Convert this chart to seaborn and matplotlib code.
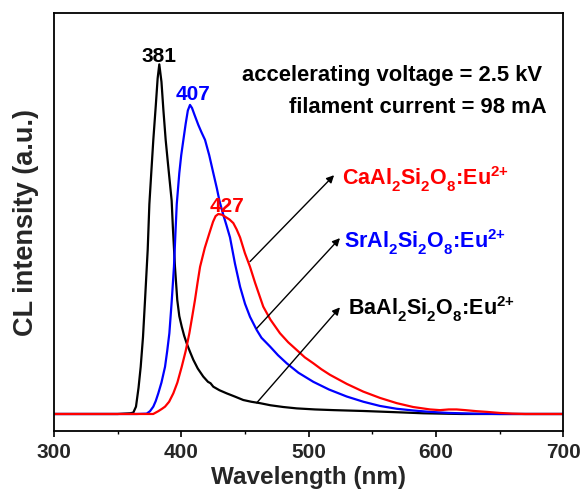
import numpy as np
import pandas as pd
import seaborn as sns
import matplotlib
matplotlib.use("Agg")
import matplotlib.pyplot as plt
from matplotlib.ticker import MultipleLocator

try:
    import matplotlib._mathtext as _mt
    _mt.FontConstantsBase.sub1 = 0.55
    _mt.FontConstantsBase.sub2 = 0.6
except Exception:
    pass

# ---------------- data ----------------
ba_nm = [300, 350, 360, 362.4, 364.5, 366.5, 368.2, 370, 371.6, 373.7, 375, 376.5, 378.1,
         380, 381.5, 382.8, 384.5, 386, 387.8, 389.5, 391, 392.5, 393.5, 395.1, 396.9,
         398.5, 400.4, 402.3, 404.3, 407, 409.5, 413, 417.3, 421, 423, 425.2, 430, 435.7,
         442, 448.7, 455, 461.8, 470, 480, 490.7, 505, 520, 542.9, 569.2, 590, 620, 700]
ba_int = [0, 0, 0.002, 0.004, 0.021, 0.075, 0.135, 0.22, 0.326, 0.47, 0.6, 0.69, 0.784,
          0.88, 0.96, 1.0, 0.95, 0.87, 0.784, 0.72, 0.665, 0.61, 0.53, 0.421, 0.326,
          0.28, 0.25, 0.224, 0.202, 0.177, 0.155, 0.13, 0.107, 0.092, 0.088, 0.078, 0.068, 0.059,
          0.05, 0.04, 0.035, 0.031, 0.025, 0.02, 0.016, 0.013, 0.011, 0.0086, 0.005, 0.002, 0.0, 0.0]

sr_nm = [300, 365, 372.9, 375.5, 378.1, 380, 382, 384.5, 387.3, 389, 390.7, 392.5, 394.3,
         395.5, 396.5, 398.5, 400, 401.7, 403.5, 405.2, 406.9, 408.5, 410.5, 413.4, 416,
         418.7, 422, 425.2, 428, 430, 433, 435.5, 438.3, 442.2, 446.2, 450.1, 454, 459.3,
         463, 469.7, 476, 482.8, 492, 503.7, 516, 529.9, 543, 556, 569, 582.2, 595.3, 610,
         630, 650, 700]
sr_int = [0, 0, 0.001, 0.008, 0.021, 0.037, 0.059, 0.09, 0.135, 0.18, 0.231, 0.32, 0.421,
          0.52, 0.6, 0.689, 0.74, 0.784, 0.83, 0.868, 0.884, 0.875, 0.855, 0.827, 0.805,
          0.784, 0.74, 0.689, 0.645, 0.61, 0.57, 0.54, 0.505, 0.43, 0.364, 0.315, 0.278, 0.24,
          0.218, 0.193, 0.168, 0.145, 0.118, 0.092, 0.07, 0.05, 0.035, 0.023, 0.015, 0.01, 0.006, 0.003,
          0.001, 0.0, 0.0]

ca_nm = [300, 370, 378, 382, 385, 387.3, 390.5, 393.8, 397, 400.4, 403.5, 406.4, 408.7,
         410.8, 412.8, 414.8, 418.5, 422.1, 425, 427, 429.1, 432, 435, 438, 440.9, 443.5,
         446.2, 450, 454, 458, 464.4, 470, 477.5, 484, 490.7, 497, 503.7, 510, 516.8, 530,
         542.9, 556, 569.2, 582, 595.3, 603.1, 610, 616.2, 623, 631.9, 640, 650, 660, 670, 700]
ca_int = [0, 0, 0.0, 0.008, 0.015, 0.021, 0.035, 0.059, 0.09, 0.135, 0.18, 0.231, 0.28,
          0.326, 0.375, 0.421, 0.475, 0.517, 0.55, 0.566, 0.572, 0.57, 0.563, 0.556, 0.546, 0.528,
          0.505, 0.46, 0.421, 0.375, 0.307, 0.27, 0.231, 0.205, 0.183, 0.162, 0.145, 0.128, 0.112, 0.086,
          0.064, 0.046, 0.031, 0.02, 0.013, 0.011, 0.013, 0.013, 0.011, 0.008, 0.006, 0.003, 0.001, 0.0, 0.0]

series_names = ["Ba", "Sr", "Ca"]
series_colors = {"Ba": "#000000", "Sr": "#0000ff", "Ca": "#ff0000"}
peak_labels = ["381", "407", "427"]
xticks = [300, 400, 500, 600, 700]

# ---------------- style ----------------
sns.set_theme(style="ticks")
plt.rcParams["font.family"] = ["Liberation Sans", "DejaVu Sans"]
plt.rcParams["font.weight"] = "bold"
plt.rcParams["mathtext.fontset"] = "custom"
plt.rcParams["mathtext.rm"] = "Liberation Sans:bold"
plt.rcParams["mathtext.it"] = "Liberation Sans:bold"
plt.rcParams["mathtext.bf"] = "Liberation Sans:bold"
plt.rcParams["mathtext.sf"] = "Liberation Sans:bold"

df = pd.concat([
    pd.DataFrame({"nm": ba_nm, "I": ba_int, "s": "Ba"}),
    pd.DataFrame({"nm": sr_nm, "I": sr_int, "s": "Sr"}),
    pd.DataFrame({"nm": ca_nm, "I": ca_int, "s": "Ca"}),
], ignore_index=True)

fig = plt.figure(figsize=(5.83, 4.93), dpi=100)
ax = fig.add_axes([0.0923, 0.1258, 0.8741, 0.8472])

sns.lineplot(data=df, x="nm", y="I", hue="s", hue_order=series_names,
             palette=series_colors, linewidth=1.6, ax=ax, legend=False,
             estimator=None, sort=False)

ax.set_xlim(300, 700)
ax.set_ylim(-0.0486, 1.146)
ax.set_yticks([])
ax.set_xticks(xticks)
ax.set_xticklabels([str(t) for t in xticks])
ax.xaxis.set_minor_locator(MultipleLocator(50))
ax.tick_params(axis="x", which="major", direction="out", length=4.5, width=1.2,
               labelsize=15, pad=4, color="black")
ax.tick_params(axis="x", which="minor", direction="out", length=2.5, width=1.0, color="black")
for sp in ax.spines.values():
    sp.set_visible(True)
    sp.set_linewidth(1.3)
    sp.set_color("black")

ax.set_xlabel("Wavelength (nm)", fontsize=17.5, fontweight="bold", labelpad=3)
ax.set_ylabel("CL intensity (a.u.)", fontsize=19.5, fontweight="bold", labelpad=11)

# peak labels
ax.text(382.6, 1.008, peak_labels[0], color="black", fontsize=15, fontweight="bold",
        ha="center", va="baseline")
ax.text(409.3, 0.898, peak_labels[1], color="#0000ff", fontsize=15, fontweight="bold",
        ha="center", va="baseline")
ax.text(435.7, 0.578, peak_labels[2], color="#ff0000", fontsize=15, fontweight="bold",
        ha="center", va="baseline")

# condition text
ax.text(683, 0.951, "accelerating voltage = 2.5 kV", fontsize=15.8, fontweight="bold",
        ha="right", va="baseline", color="black")
ax.text(686.9, 0.860, "filament current = 98 mA", fontsize=15.8, fontweight="bold",
        ha="right", va="baseline", color="black")

# arrows
arrow_kw = dict(arrowstyle="-|>", color="black", lw=1.0, mutation_scale=11,
                shrinkA=0, shrinkB=0)
ax.annotate("", xy=(520, 0.683), xytext=(454, 0.436), arrowprops=arrow_kw)
ax.annotate("", xy=(524.6, 0.503), xytext=(459.3, 0.245), arrowprops=arrow_kw)
ax.annotate("", xy=(524.6, 0.305), xytext=(459.3, 0.032), arrowprops=arrow_kw)

# compound labels
ax.text(526, 0.655, r"CaAl$_2$Si$_2$O$_8$:Eu$^{2{+}}$", color="#ff0000", fontsize=15.5,
        fontweight="bold", ha="left", va="baseline")
ax.text(527.7, 0.474, r"SrAl$_2$Si$_2$O$_8$:Eu$^{2{+}}$", color="#0000ff", fontsize=15.5,
        fontweight="bold", ha="left", va="baseline")
ax.text(531, 0.283, r"BaAl$_2$Si$_2$O$_8$:Eu$^{2{+}}$", color="black", fontsize=15.5,
        fontweight="bold", ha="left", va="baseline")

fig.savefig("out.png", dpi=100)
